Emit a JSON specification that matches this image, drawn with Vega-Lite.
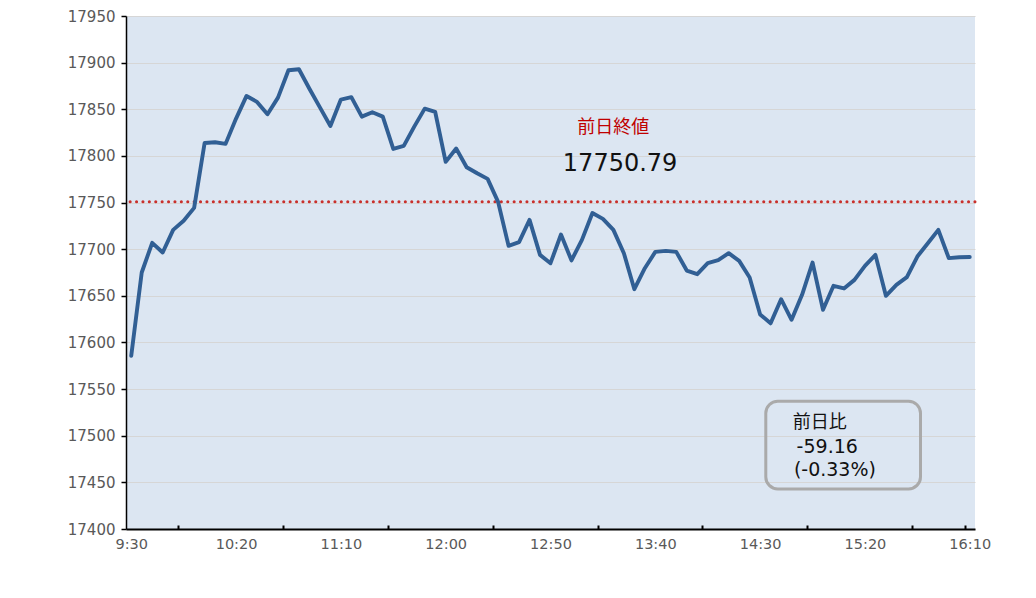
{
  "$schema": "https://vega.github.io/schema/vega-lite/v6.json",
  "width": 849,
  "height": 513,
  "autosize": "none",
  "padding": {"left": 126, "top": 16, "right": 61, "bottom": 69},
  "background": "#ffffff",
  "config": {
    "view": {"fill": "#DCE6F2", "stroke": null},
    "axis": {
      "labelFont": "DejaVu Sans",
      "labelColor": "#595959",
      "domainColor": "#000000",
      "tickColor": "#000000",
      "title": null
    }
  },
  "datasets": {
    "one": [{"note": "annotation"}],
    "prices": [
      {"min": 0, "price": 17585.7}, {"min": 5, "price": 17675.0}, {"min": 10, "price": 17706.8},
      {"min": 15, "price": 17696.4}, {"min": 20, "price": 17720.7}, {"min": 25, "price": 17730.4},
      {"min": 30, "price": 17744.3}, {"min": 35, "price": 17813.9}, {"min": 40, "price": 17814.6},
      {"min": 45, "price": 17812.9}, {"min": 50, "price": 17840.0}, {"min": 55, "price": 17864.3},
      {"min": 60, "price": 17857.9}, {"min": 65, "price": 17844.6}, {"min": 70, "price": 17862.5},
      {"min": 75, "price": 17891.8}, {"min": 80, "price": 17892.9}, {"min": 85, "price": 17872.0},
      {"min": 90, "price": 17852.0}, {"min": 95, "price": 17832.1}, {"min": 100, "price": 17860.4},
      {"min": 105, "price": 17863.0}, {"min": 110, "price": 17842.1}, {"min": 115, "price": 17846.8},
      {"min": 120, "price": 17842.1}, {"min": 125, "price": 17807.5}, {"min": 130, "price": 17810.7},
      {"min": 135, "price": 17831.4}, {"min": 140, "price": 17850.7}, {"min": 145, "price": 17847.1},
      {"min": 150, "price": 17793.6}, {"min": 155, "price": 17807.9}, {"min": 160, "price": 17787.9},
      {"min": 165, "price": 17781.4}, {"min": 170, "price": 17775.4}, {"min": 175, "price": 17750.7},
      {"min": 180, "price": 17703.6}, {"min": 185, "price": 17707.5}, {"min": 190, "price": 17731.4},
      {"min": 195, "price": 17693.9}, {"min": 200, "price": 17685.0}, {"min": 205, "price": 17715.7},
      {"min": 210, "price": 17688.0}, {"min": 215, "price": 17710.0}, {"min": 220, "price": 17738.8},
      {"min": 225, "price": 17732.5}, {"min": 230, "price": 17720.7}, {"min": 235, "price": 17695.7},
      {"min": 240, "price": 17657.1}, {"min": 245, "price": 17679.6}, {"min": 250, "price": 17697.1},
      {"min": 255, "price": 17698.2}, {"min": 260, "price": 17697.1}, {"min": 265, "price": 17677.1},
      {"min": 270, "price": 17673.2}, {"min": 275, "price": 17685.0}, {"min": 280, "price": 17688.2},
      {"min": 285, "price": 17695.7}, {"min": 290, "price": 17687.5}, {"min": 295, "price": 17669.6},
      {"min": 300, "price": 17630.0}, {"min": 305, "price": 17620.5}, {"min": 310, "price": 17646.4},
      {"min": 315, "price": 17624.3}, {"min": 320, "price": 17651.1}, {"min": 325, "price": 17685.7},
      {"min": 330, "price": 17635.0}, {"min": 335, "price": 17660.7}, {"min": 340, "price": 17657.9},
      {"min": 345, "price": 17667.1}, {"min": 350, "price": 17682.1}, {"min": 355, "price": 17693.9},
      {"min": 360, "price": 17650.0}, {"min": 365, "price": 17661.8}, {"min": 370, "price": 17670.0},
      {"min": 375, "price": 17692.1}, {"min": 380, "price": 17706.4}, {"min": 385, "price": 17720.7},
      {"min": 390, "price": 17690.4}, {"min": 395, "price": 17691.4}, {"min": 400, "price": 17691.6}
    ]
  },
  "resolve": {"axis": {"x": "independent"}},
  "layer": [
    {
      "data": {"name": "one"},
      "mark": {"type": "rule", "stroke": "#C9302C", "strokeWidth": 3, "strokeDash": [0.1, 6.3], "strokeCap": "round"},
      "encoding": {
        "y": {"datum": 17750.79, "type": "quantitative", "scale": {"domain": [17400, 17950], "nice": false, "zero": false}}
      }
    },
    {
      "data": {"name": "prices"},
      "mark": {"type": "line", "stroke": "#315F94", "strokeWidth": 3.9, "strokeJoin": "round", "strokeCap": "round"},
      "encoding": {
        "x": {
          "field": "min", "type": "quantitative",
          "scale": {"domain": [-2.5, 402.5], "nice": false, "zero": false},
          "axis": {
            "orient": "bottom",
            "values": [0, 50, 100, 150, 200, 250, 300, 350, 400],
            "labelExpr": "floor((570 + datum.value) / 60) + ':' + (((570 + datum.value) % 60) < 10 ? '0' : '') + ((570 + datum.value) % 60)",
            "ticks": false,
            "grid": false,
            "domainWidth": 2,
            "labelFontSize": 14.5,
            "labelPadding": 8
          }
        },
        "y": {
          "field": "price", "type": "quantitative",
          "scale": {"domain": [17400, 17950], "nice": false, "zero": false},
          "axis": {
            "values": [17400, 17450, 17500, 17550, 17600, 17650, 17700, 17750, 17800, 17850, 17900, 17950],
            "format": "d",
            "grid": true,
            "gridColor": "#D6D6D6",
            "gridWidth": 1,
            "domainWidth": 1.5,
            "tickSize": 5,
            "tickWidth": 1.5,
            "labelFontSize": 15,
            "labelPadding": 6
          }
        }
      }
    },
    {
      "data": {"name": "one"},
      "mark": {"type": "rect", "filled": false, "stroke": "#AAAAAA", "strokeWidth": 3, "cornerRadius": 12},
      "encoding": {
        "x": {
          "datum": 302.7, "type": "quantitative",
          "scale": {"domain": [-2.5, 402.5], "nice": false, "zero": false},
          "axis": {
            "orient": "bottom",
            "values": [22.5, 72.5, 122.5, 172.5, 222.5, 272.5, 322.5, 372.5, 397.5],
            "labels": false,
            "domain": false,
            "grid": false,
            "ticks": true,
            "tickSize": -4,
            "tickWidth": 2
          }
        },
        "x2": {"datum": 376.5},
        "y": {"datum": 17537, "type": "quantitative"},
        "y2": {"datum": 17443}
      }
    },
    {
      "data": {"name": "one"},
      "mark": {"type": "text", "text": "前日終値", "font": "Noto Sans CJK JP", "fontSize": 18, "color": "#C00000", "align": "center", "baseline": "middle"},
      "encoding": {
        "x": {"datum": 229.9, "type": "quantitative", "axis": null},
        "y": {"datum": 17830.2, "type": "quantitative"}
      }
    },
    {
      "data": {"name": "one"},
      "mark": {"type": "text", "text": "17750.79", "font": "DejaVu Sans", "fontSize": 24, "color": "#111111", "align": "center", "baseline": "middle"},
      "encoding": {
        "x": {"datum": 233.2, "type": "quantitative", "axis": null},
        "y": {"datum": 17791.6, "type": "quantitative"}
      }
    },
    {
      "data": {"name": "one"},
      "mark": {"type": "text", "text": "前日比", "font": "Noto Sans CJK JP", "fontSize": 18, "color": "#111111", "align": "left", "baseline": "middle"},
      "encoding": {
        "x": {"datum": 315.6, "type": "quantitative", "axis": null},
        "y": {"datum": 17513.3, "type": "quantitative"}
      }
    },
    {
      "data": {"name": "one"},
      "mark": {"type": "text", "text": "-59.16", "font": "DejaVu Sans", "fontSize": 19, "color": "#111111", "align": "left", "baseline": "middle"},
      "encoding": {
        "x": {"datum": 317.4, "type": "quantitative", "axis": null},
        "y": {"datum": 17487.6, "type": "quantitative"}
      }
    },
    {
      "data": {"name": "one"},
      "mark": {"type": "text", "text": "(-0.33%)", "font": "DejaVu Sans", "fontSize": 19, "color": "#111111", "align": "left", "baseline": "middle"},
      "encoding": {
        "x": {"datum": 316.1, "type": "quantitative", "axis": null},
        "y": {"datum": 17463.2, "type": "quantitative"}
      }
    }
  ]
}
